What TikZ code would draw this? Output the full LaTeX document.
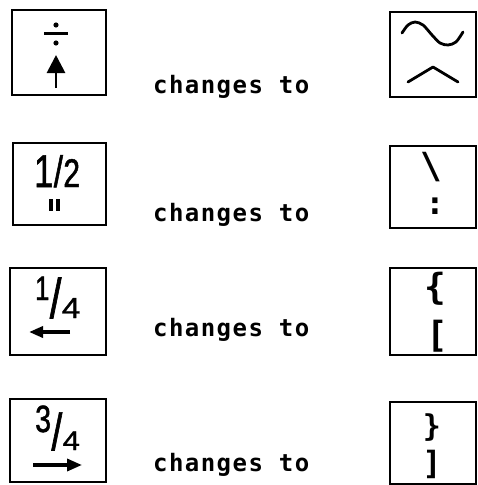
\documentclass[tikz,border=0pt]{standalone}
\usepackage{fontspec}
\usetikzlibrary{arrows.meta,positioning}
\newfontfamily\labelfont{DejaVu Sans Mono}[LetterSpace=6]
\newfontfamily\keyfont{Liberation Sans}[FakeStretch=0.75, FakeBold=1.2]
\newfontfamily\widekeyfont{Liberation Sans}[FakeStretch=1.15, FakeBold=1.2]
\newfontfamily\symfont{DejaVu Sans Mono}
\tikzset{
  keybox/.style={draw, rectangle, line width=2.6pt, inner sep=0pt},
  keytext/.style={inner sep=0pt, anchor=base west},
  symtext/.style={inner sep=0pt},
  changetext/.style={inner sep=0pt, anchor=base west, font=\labelfont\bfseries\fontsize{24}{24}\selectfont},
  stroke/.style={line width=2.8pt, line cap=round, line join=round}
}
\begin{document}
\begin{tikzpicture}[x=1pt, y=-1pt]
        \useasboundingbox (0,0) rectangle (477,485);

        % Keys before the change
        \node[keybox, minimum width=94pt, minimum height=85pt] (divkey) at (59,52.5) {};
        \node[keybox, minimum width=93pt, minimum height=82pt] (halfkey) at (59.5,184) {};
        \node[keybox, minimum width=96pt, minimum height=87pt] (quarterkey) at (58,311.5) {};
        \node[keybox, minimum width=96pt, minimum height=83pt] (threekey) at (58,440.5) {};

        % Keys after the change
        \node[keybox, minimum width=86pt, minimum height=85pt] (tildekey) at (433,54.5) {};
        \node[keybox, minimum width=86pt, minimum height=82pt] (slashkey) at (433,187) {};
        \node[keybox, minimum width=86pt, minimum height=87pt] (bracekey) at (433,311.5) {};
        \node[keybox, minimum width=86pt, minimum height=82pt] (closekey) at (433,443) {};

        % Divide sign and up arrow
        \fill (56,25) circle (2.6pt);
        \fill (56,43) circle (2.6pt);
        \draw[line width=3pt] (44,33) -- (68,33);
        \draw[line width=2.8pt, -{Triangle[length=18pt, width=18pt]}] (56,88) -- (56,55);

        % One half and its quote mark
        \node[keytext, font=\keyfont\fontsize{46}{46}\selectfont] (halfnum) at (34,187) {1};
        \node[keytext, font=\keyfont\fontsize{44}{44}\selectfont] (halfbar) at (halfnum.base east) {/};
        \node[keytext, font=\keyfont\fontsize{40}{40}\selectfont] (halfden) at (halfbar.base east) {2};
        \draw[line width=3.2pt] (51,199) -- (51,211);
        \draw[line width=3.2pt] (58,199) -- (58,211);

        % One quarter and left arrow
        \node[keytext, font=\keyfont\fontsize{34}{34}\selectfont] (quarnum) at (35,300) {1};
        \node[keytext, font=\keyfont\fontsize{56}{56}\selectfont] (quarbar) at (quarnum.base east |- 0,318) {/};
        \node[keytext, font=\widekeyfont\fontsize{29}{29}\selectfont] (quarden) at (quarbar.base east) {4};
        \draw[line width=3.4pt, -{Triangle[length=14pt, width=11pt]}] (70,332) -- (29,332);

        % Three quarters and right arrow
        \node[keytext, font=\keyfont\fontsize{38}{38}\selectfont] (threenum) at (35,432) {3};
        \node[keytext, font=\keyfont\fontsize{52}{52}\selectfont] (threebar) at (threenum.base east |- 0,450) {/};
        \node[keytext, font=\widekeyfont\fontsize{27}{27}\selectfont] (threeden) at (threebar.base east) {4};
        \draw[line width=3.4pt, -{Triangle[length=15pt, width=12pt]}] (33,465) -- (82,465);

        % Tilde and circumflex
        \draw[stroke] plot[smooth] coordinates {(402,33) (408,25) (415,22) (423,25) (432,35) (440,43) (448,45) (456,42) (463,32)};
        \draw[stroke] (408,82) -- (433,67) -- (458,82);

        % Backslash and colon
        \node[symtext, font=\symfont\bfseries\fontsize{36}{36}\selectfont] (backsl) at (431,167) {\char`\\};
        \node[symtext, font=\symfont\bfseries\fontsize{32}{32}\selectfont] (colon) at (435,206) {:};

        % Brackets
        \node[symtext, font=\symfont\bfseries\fontsize{36}{36}\selectfont] (openbrace) at (435,289) {\{};
        \node[symtext, font=\symfont\bfseries\fontsize{36}{36}\selectfont] (openbrack) at (437,336) {[};
        \node[symtext, font=\symfont\bfseries\fontsize{30}{30}\selectfont] (closebrace) at (432,428) {\}};
        \node[symtext, font=\symfont\bfseries\fontsize{32}{32}\selectfont] (closebrack) at (432,464) {]};

        % Captions
        \node[changetext] (changeA) at (153,93) {changes to};
        \node[changetext] (changeB) at (153,221) {changes to};
        \node[changetext] (changeC) at (153,336) {changes to};
        \node[changetext] (changeD) at (153,471) {changes to};
    \end{tikzpicture}
\end{document}
